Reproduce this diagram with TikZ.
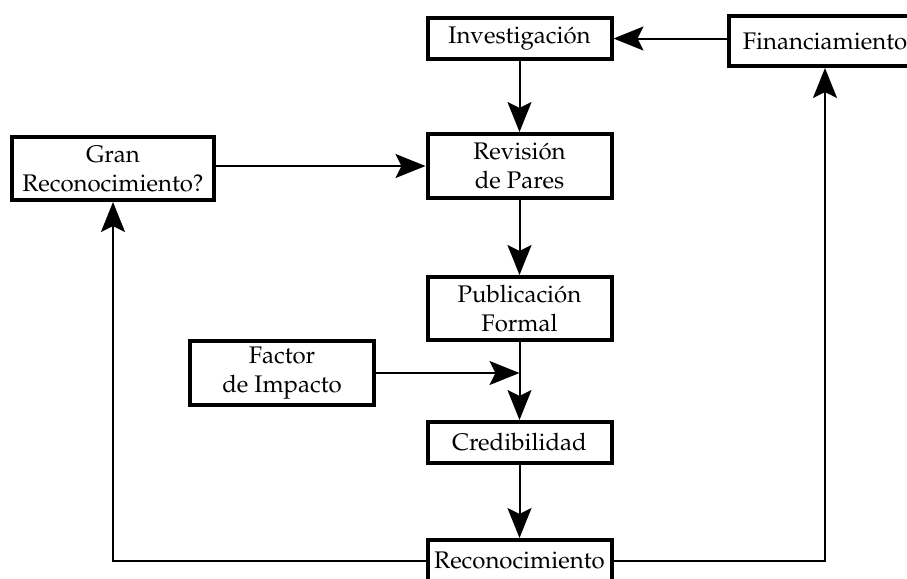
\documentclass[tikz,border=0pt]{standalone}
\usepackage[T1]{fontenc}
\usepackage{mathpazo}
\usetikzlibrary{arrows.meta}
\tikzstyle{boxNode}=[draw,rectangle,line width=2pt,fill=white,align=center,inner sep=0pt,minimum width=92pt,minimum height=20.5pt,font=\fontsize{12}{14.5}\selectfont]
\tikzstyle{flow}=[-{Stealth[length=15pt,width=12pt,inset=3pt]}, line width=1pt]

\begin{document}
\begin{tikzpicture}[x=0.5pt,y=-0.5pt]

    \useasboundingbox (0,0) rectangle (907,579);

    \node[boxNode] (inv) at (519.5, 38.5) {Investigaci\'on};
    \node[boxNode,minimum width=96pt,minimum height=25pt] (fin) at (825, 41) {Financiamiento};
    \node[boxNode,minimum width=101pt,minimum height=31.5pt] (gran) at (113, 168.5) {Gran\\Reconocimiento?};
    \node[boxNode,minimum height=32pt] (rev) at (519.5, 166) {Revisi\'on\\de Pares};
    \node[boxNode,minimum height=31.5pt] (pub) at (519.5, 308.5) {Publicaci\'on\\Formal};
    \node[boxNode,minimum height=32pt] (fac) at (282, 373) {Factor\\de Impacto};
    \node[boxNode] (cred) at (519.5, 442.5) {Credibilidad};
    \node[boxNode] (rec) at (519.5, 560.5) {Reconocimiento};

    \coordinate (join) at (fac.east -| pub.south);

    \draw[flow] (fin.west |- inv.east) to (inv.east);
    \draw[flow] (inv) to (rev);
    \draw[flow] (gran.east |- rev.west) to (rev.west);
    \draw[flow] (rev) to (pub);
    \draw[flow] (pub) to (cred);
    \draw[flow] (fac.east |- join) to (join);
    \draw[flow] (cred) to (rec);
    \draw[flow] (rec.west) -| (gran.south);
    \draw[flow] (rec.east) -| (fin.south);

\end{tikzpicture}
\end{document}
